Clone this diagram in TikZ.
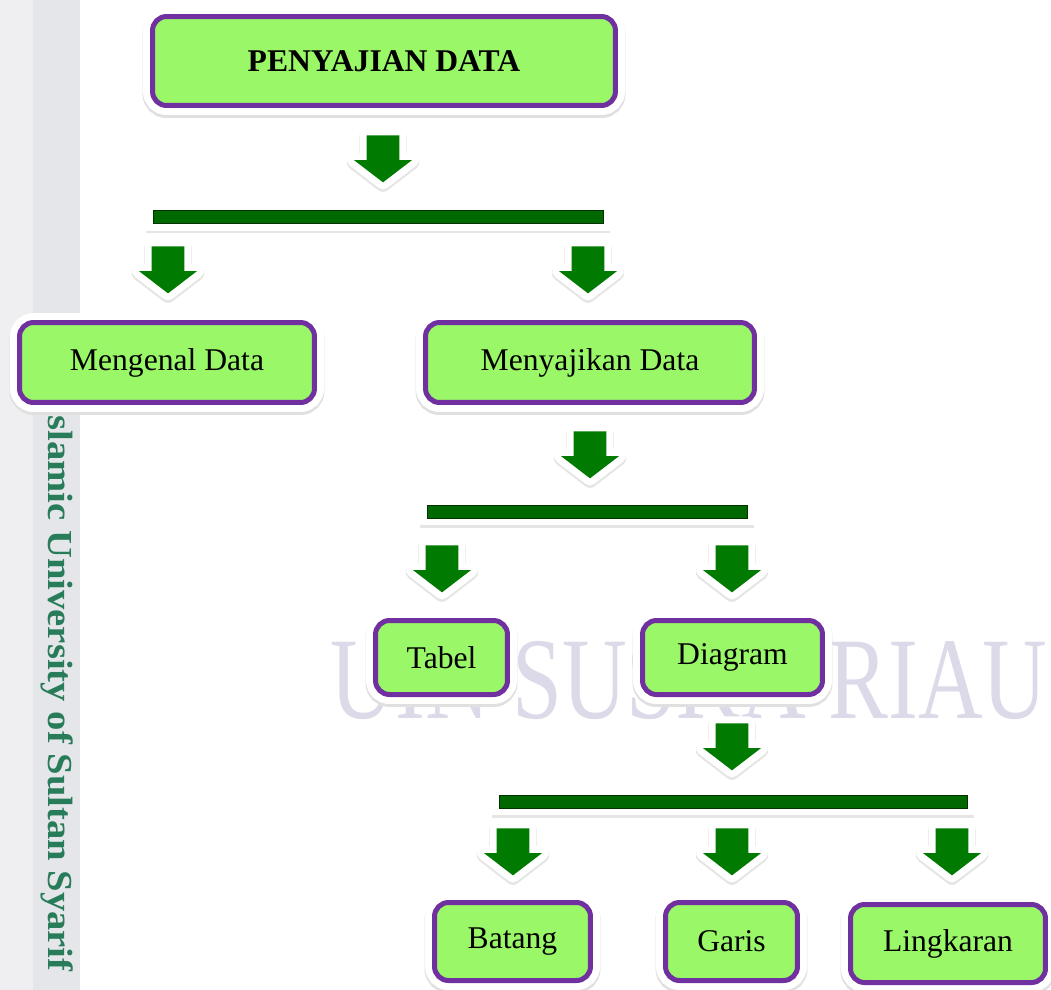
\documentclass[tikz,border=0pt]{standalone}
\usepackage{fontspec}
\setmainfont{Liberation Serif}
\usepackage{graphicx}
\usetikzlibrary{shapes.arrows}
\definecolor{boxgreen}{HTML}{99F768}
\definecolor{boxpurple}{HTML}{7030A0}
\definecolor{arrowgreen}{HTML}{007A00}
\definecolor{bargreen}{HTML}{006800}
\definecolor{sidegreen}{HTML}{287C5A}
\definecolor{wmark}{HTML}{DCDAE8}
\definecolor{stripgrey}{HTML}{E5E6E9}
\definecolor{edgegrey}{HTML}{EFEFF1}

\begin{document}
\begin{tikzpicture}[x=0.02cm, y=-0.02cm,
    databox/.style={draw=boxpurple, line width=0.1cm, fill=boxgreen, rounded corners=0.28cm, inner sep=0pt,
        font=\fontsize{18}{20}\selectfont,
        preaction={draw=black!12, line width=0.4cm, transform canvas={yshift=-0.05cm}},
        preaction={draw=white, line width=0.38cm}},
    splitbar/.style={fill=bargreen, draw=green!20!black, line width=0.4pt, inner sep=0pt, minimum height=0.27cm,
        preaction={draw=black!10, line width=0.3cm, transform canvas={yshift=-0.04cm}},
        preaction={draw=white, line width=0.28cm}},
    downarrow/.style={single arrow, rotate=-90, anchor=tail, fill=arrowgreen, inner xsep=0pt, inner ysep=0.32cm,
        minimum height=0.94cm, single arrow head extend=0.25cm, single arrow tip angle=105,
        preaction={draw=black!10, line width=0.3cm, line join=round, transform canvas={yshift=-0.04cm}},
        preaction={draw=white, line width=0.28cm, line join=round}}]
    \useasboundingbox (0,0) rectangle (1051,990);
    \fill[white] (0,0) rectangle (1051,990);
    % left strip and watermark
    \fill[edgegrey] (0,0) rectangle (33,990);
    \fill[stripgrey] (33,0) rectangle (80,990);
    \node[rotate=-90, anchor=base west, text=sidegreen, inner sep=0pt, font=\bfseries\fontsize{20}{20}\selectfont] (uni) at (48,400) {\scalebox{1.1}[1]{Islamic University of Sultan Syarif}};
    \node[anchor=base east, text=wmark, inner sep=0pt, font=\fontsize{51}{51}\selectfont] (wm) at (1048,718) {\scalebox{1}[1.3]{UIN SUSKA RIAU}};

    \node[databox, minimum width=9.26cm, minimum height=1.78cm, font=\bfseries\fontsize{18}{20}\selectfont] (pd) at (384,61) {PENYAJIAN DATA};
    \node[downarrow] (a0) at (383,135) {};
    \node[splitbar, minimum width=9cm] (b0) at (378,217) {};
    \node[downarrow] (a1) at (168,246) {};
    \node[downarrow] (a2) at (588,246) {};
    \node[databox, minimum width=5.9cm, minimum height=1.6cm] (md) at (167,362.5) {Mengenal Data};
    \node[databox, minimum width=6.58cm, minimum height=1.6cm] (sd) at (590,362.5) {Menyajikan Data};

    \node[downarrow] (a3) at (590,431) {};
    \node[splitbar, minimum width=6.4cm, minimum height=0.26cm] (b1) at (587,511.5) {};
    \node[downarrow] (a4) at (442,545) {};
    \node[downarrow] (a5) at (732,545) {};
    \node[databox, minimum width=2.64cm, minimum height=1.48cm] (tb) at (441.5,657.5) {Tabel};
    \node[databox, minimum width=3.6cm, minimum height=1.48cm] (dg) at (732.5,657.5) {Diagram};

    \node[downarrow] (a6) at (732,723) {};
    \node[splitbar, minimum width=9.36cm, minimum height=0.26cm] (b2) at (733,801.5) {};
    \node[downarrow] (a7) at (513,828) {};
    \node[downarrow] (a8) at (732,828) {};
    \node[downarrow] (a9) at (952,828) {};
    \node[databox, minimum width=3.12cm, minimum height=1.56cm] (bt) at (512.5,941.5) {Batang};
    \node[databox, minimum width=2.64cm, minimum height=1.56cm] (gr) at (731.5,941.5) {Garis};
    \node[databox, minimum width=3.9cm, minimum height=1.56cm] (lk) at (948,943.5) {Lingkaran};
\end{tikzpicture}
\end{document}
